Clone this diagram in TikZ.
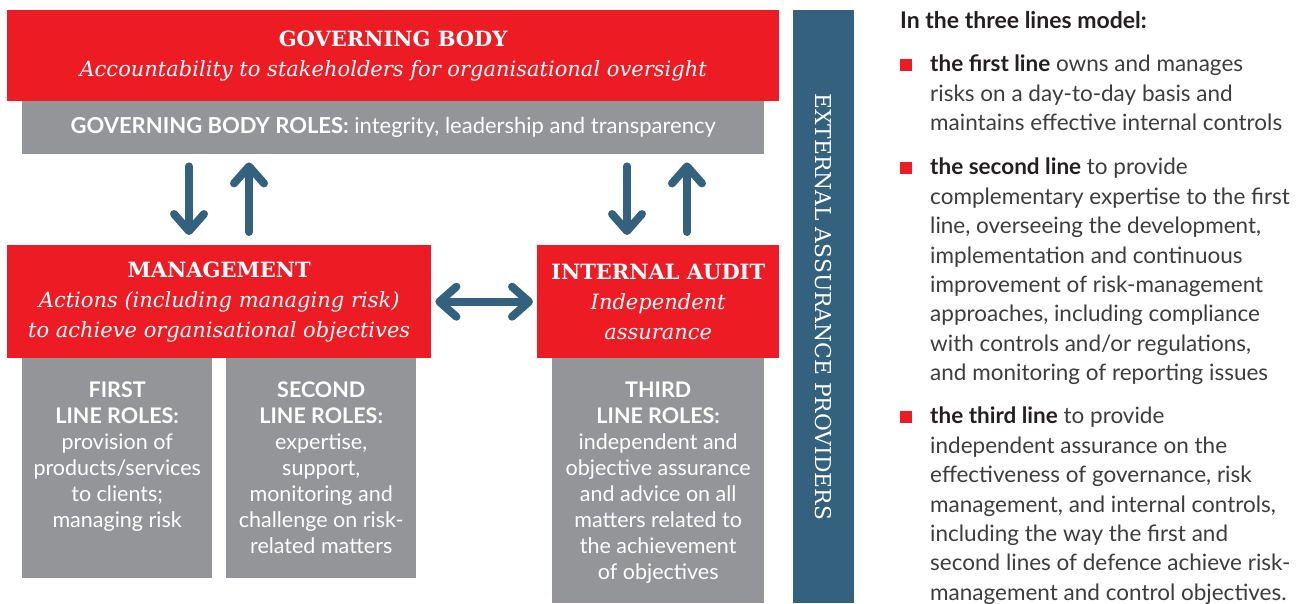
\documentclass[tikz,border=0pt]{standalone}
\usepackage{fontspec}
\setmainfont{Lato}
\newfontfamily\headfont{DejaVu Serif}
\usetikzlibrary{arrows.meta,positioning}

\definecolor{iiared}{HTML}{ED1C24}
\definecolor{iiagray}{HTML}{939598}
\definecolor{iiablue}{HTML}{34627E}
\definecolor{iiatext}{HTML}{3D3C3E}
\definecolor{iiadark}{HTML}{231F20}

\newcommand{\linehead}[1]{{\color{iiadark}\bfseries #1}}

\tikzset{
  redbox/.style={fill=iiared, text=white, anchor=north west, inner sep=0pt, align=center,
    font=\headfont\fontsize{21}{30}\selectfont},
  graybox/.style={fill=iiagray, anchor=north west, inner sep=0pt},
  rolestext/.style={text=white, align=center, inner sep=0pt,
    font=\fontsize{21.5}{26}\selectfont},
  linetext/.style={text=iiatext, anchor=north west, align=left, inner sep=0pt,
    font=\fontsize{22.5}{29.4}\selectfont},
  bullet/.style={fill=iiared, minimum size=12pt, inner sep=0pt},
  barb/.tip={Straight Barb[length=17pt, width=30pt, line width=8pt, round]},
  flow/.style={draw=iiablue, line width=8pt, line cap=round},
}

\begin{document}
\begin{tikzpicture}[x=1pt, y=-1pt]
\useasboundingbox (0,0) rectangle (1306,603);

% governing body
\node[redbox, minimum width=772pt, minimum height=91pt] (gov) at (7,10)
  {\textbf{GOVERNING BODY}\\\textit{Accountability to stakeholders for organisational oversight}};
\node[graybox, minimum width=742pt, minimum height=53pt, text=white,
  font=\fontsize{22}{26}\selectfont] (govroles) at (22,101)
  {\textbf{GOVERNING BODY ROLES:} integrity, leadership and transparency};

% management and internal audit
\node[redbox, minimum width=424pt, minimum height=113pt] (mgmt) at (7,245)
  {\textbf{MANAGEMENT}\\\textit{Actions (including managing risk)}\\\textit{to achieve organisational objectives}};
\node[redbox, minimum width=242pt, minimum height=113pt] (audit) at (537,245)
  {\textbf{INTERNAL AUDIT}\\\textit{Independent}\\\textit{assurance}};

% the three roles boxes
\node[graybox, minimum width=190pt, minimum height=220pt] (first) at (22,358) {};
\node[graybox, minimum width=190pt, minimum height=220pt] (second) at (226,358) {};
\node[graybox, minimum width=212pt, minimum height=245pt] (third) at (552,358) {};
\node[rolestext, below=24pt of first.north] (firsttxt)
  {\textbf{FIRST}\\\textbf{LINE ROLES:}\\provision of\\products/services\\to clients;\\managing risk};
\node[rolestext, below=24pt of second.north] (secondtxt)
  {\textbf{SECOND}\\\textbf{LINE ROLES:}\\expertise,\\support,\\monitoring and\\challenge on risk-\\related matters};
\node[rolestext, below=24pt of third.north] (thirdtxt)
  {\textbf{THIRD}\\\textbf{LINE ROLES:}\\independent and\\objective assurance\\and advice on all\\matters related to\\the achievement\\of objectives};

% external assurance
\node[fill=iiablue, minimum width=61pt, minimum height=593pt, anchor=north west,
  inner sep=0pt] (ext) at (793,10) {};
\node[rotate=-90, text=white, font=\headfont\fontsize{21.8}{25}\selectfont] (exttxt)
  at (ext.center) {EXTERNAL ASSURANCE PROVIDERS};

% arrows
\draw[flow, -barb, shorten <=12pt, shorten >=10pt]
  ([xshift=167pt]govroles.south west) -- ([xshift=182pt]mgmt.north west);
\draw[flow, -barb, shorten <=13pt, shorten >=8pt]
  ([xshift=242pt]mgmt.north west) -- ([xshift=227pt]govroles.south west);
\draw[flow, -barb, shorten <=12pt, shorten >=10pt]
  ([xshift=605pt]govroles.south west) -- ([xshift=90pt]audit.north west);
\draw[flow, -barb, shorten <=13pt, shorten >=8pt]
  ([xshift=150pt]audit.north west) -- ([xshift=665pt]govroles.south west);
\draw[flow, barb-barb, shorten <=4pt, shorten >=4pt] (mgmt.east) -- (audit.west);

% three lines model text
\node[anchor=base west, inner sep=0pt, text=iiadark,
  font=\bfseries\fontsize{23}{29}\selectfont] (model) at (900,28) {In the three lines model:};
\node[linetext] (line1) at (930,55)
  {\linehead{the first line} owns and manages\\risks on a day-to-day basis and\\maintains effective internal controls};
\node[linetext] (line2) at (930,158)
  {\linehead{the second line} to provide\\complementary expertise to the first\\line, overseeing the development,\\implementation and continuous\\improvement of risk-management\\approaches, including compliance\\with controls and/or regulations,\\and monitoring of reporting issues};
\node[linetext] (line3) at (930,407)
  {\linehead{the third line} to provide\\independent assurance on the\\effectiveness of governance, risk\\management, and internal controls,\\including the way the first and\\second lines of defence achieve risk-\\management and control objectives.};
\node[bullet] (bul1) at (906,65) {};
\node[bullet] (bul2) at (906,168) {};
\node[bullet] (bul3) at (906,417) {};

\end{tikzpicture}
\end{document}
